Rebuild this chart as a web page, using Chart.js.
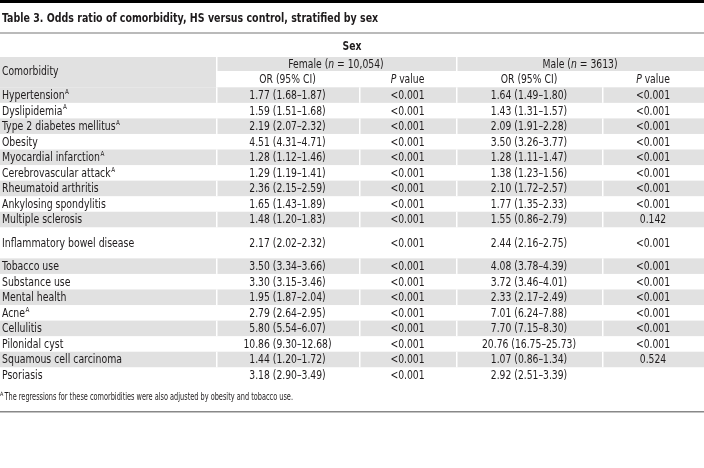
<!DOCTYPE html>
<html>
<head>
<meta charset="utf-8">
<script src="https://cdn.jsdelivr.net/npm/chart.js@4.4.1/dist/chart.umd.min.js"></script>
<style>
html, body { margin: 0; padding: 0; background: #fff; }
canvas { display: block; }
</style>
</head>
<body>
<canvas id="tbl" width="704" height="468"></canvas>
<script>
// table values
var comorbidities = ["Hypertension", "Dyslipidemia", "Type 2 diabetes mellitus", "Obesity",
    "Myocardial infarction", "Cerebrovascular attack", "Rheumatoid arthritis",
    "Ankylosing spondylitis", "Multiple sclerosis", "Inflammatory bowel disease",
    "Tobacco use", "Substance use", "Mental health", "Acne", "Cellulitis",
    "Pilonidal cyst", "Squamous cell carcinoma", "Psoriasis"];
var adjusted = [1, 1, 1, 0, 1, 1, 0, 0, 0, 0, 0, 0, 0, 1, 0, 0, 0, 0];
var femaleOR = ["1.77 (1.68–1.87)", "1.59 (1.51–1.68)", "2.19 (2.07–2.32)", "4.51 (4.31–4.71)",
    "1.28 (1.12–1.46)", "1.29 (1.19–1.41)", "2.36 (2.15–2.59)", "1.65 (1.43–1.89)",
    "1.48 (1.20–1.83)", "2.17 (2.02–2.32)", "3.50 (3.34–3.66)", "3.30 (3.15–3.46)",
    "1.95 (1.87–2.04)", "2.79 (2.64–2.95)", "5.80 (5.54–6.07)", "10.86 (9.30–12.68)",
    "1.44 (1.20–1.72)", "3.18 (2.90–3.49)"];
var femaleP = ["<0.001", "<0.001", "<0.001", "<0.001", "<0.001", "<0.001", "<0.001", "<0.001",
    "<0.001", "<0.001", "<0.001", "<0.001", "<0.001", "<0.001", "<0.001", "<0.001",
    "<0.001", "<0.001"];
var maleOR = ["1.64 (1.49–1.80)", "1.43 (1.31–1.57)", "2.09 (1.91–2.28)", "3.50 (3.26–3.77)",
    "1.28 (1.11–1.47)", "1.38 (1.23–1.56)", "2.10 (1.72–2.57)", "1.77 (1.35–2.33)",
    "1.55 (0.86–2.79)", "2.44 (2.16–2.75)", "4.08 (3.78–4.39)", "3.72 (3.46–4.01)",
    "2.33 (2.17–2.49)", "7.01 (6.24–7.88)", "7.70 (7.15–8.30)", "20.76 (16.75–25.73)",
    "1.07 (0.86–1.34)", "2.92 (2.51–3.39)"];
var maleP = ["<0.001", "<0.001", "<0.001", "<0.001", "<0.001", "<0.001", "<0.001", "<0.001",
    "0.142", "<0.001", "<0.001", "<0.001", "<0.001", "<0.001", "<0.001", "<0.001",
    "0.524", ""];
// row slot of each comorbidity (IBD takes two slots)
var rowSlot = [0, 1, 2, 3, 4, 5, 6, 7, 8, 9.5, 11, 12, 13, 14, 15, 16, 17, 18];

var title = "Table 3. Odds ratio of comorbidity, HS versus control, stratified by sex";
var footnote = "The regressions for these comorbidities were also adjusted by obesity and tobacco use.";

var FONT = '"Liberation Sans Narrow", "DejaVu Sans Condensed", sans-serif';
var INK = "#1e1b1c";
var SHADE = "#e1e1e1";
var SQ = 0.79;   // the journal face is narrower than Liberation Narrow
var F13 = "13px " + FONT;
// column edges in px
var cols = [0, 216, 359, 456, 602, 704];

// draw text squeezed horizontally by sx, anchored at x with given align
function txt(ctx, s, x, y, font, sx, align) {
    ctx.save();
    ctx.font = font;
    ctx.textAlign = align || "left";
    ctx.translate(x, y);
    ctx.scale(sx, 1);
    ctx.fillText(s, 0, 0);
    ctx.restore();
    ctx.font = font;
    return ctx.measureText(s).width * sx;
}

function runs(ctx, parts, x, y, align) {
    // parts: [text, italic]
    var w = 0;
    parts.forEach(function (p) {
        ctx.font = (p[1] ? "italic " : "") + F13;
        w += ctx.measureText(p[0]).width * SQ;
    });
    var cx = align == "center" ? x - w / 2 : x;
    parts.forEach(function (p) {
        cx += txt(ctx, p[0], cx, y, (p[1] ? "italic " : "") + F13, SQ, "left");
    });
}

var tablePlugin = {
    id: "tablePlugin",
    beforeDatasetsDraw: function (chart) {
        var ctx = chart.ctx;
        var xs = chart.scales.x, ys = chart.scales.y;
        var W = chart.width;
        var half = (ys.getPixelForValue(1) - ys.getPixelForValue(0)) / 2;
        ctx.save();

        // rules
        ctx.fillStyle = "#000";
        ctx.fillRect(0, 0, W, 3);
        ctx.fillStyle = "#777";
        ctx.fillRect(0, 32.5, W, 1);
        ctx.fillStyle = "#888";
        ctx.fillRect(0, 411, W, 1.5);

        ctx.textBaseline = "middle";
        ctx.fillStyle = INK;
        txt(ctx, title, 2, 19, "bold 13px " + FONT, 0.81, "left");
        txt(ctx, "Sex", 352, 47, "bold 13px " + FONT, SQ, "center");

        // header bands
        ctx.fillStyle = SHADE;
        ctx.fillRect(0, 57, W, 14);
        ctx.fillRect(0, 71, cols[1], 16.3);
        ctx.fillStyle = "#fff";
        ctx.fillRect(cols[1], 57, 1.5, 30.3);
        ctx.fillRect(cols[3], 57, 1.5, 14);

        ctx.fillStyle = INK;
        runs(ctx, [["Comorbidity", false]], 2, 72, "left");
        runs(ctx, [["Female (", false], ["n", true], [" = 10,054)", false]], (cols[1] + cols[3]) / 2, 64.5, "center");
        runs(ctx, [["Male (", false], ["n", true], [" = 3613)", false]], (cols[3] + cols[5]) / 2, 64.5, "center");
        runs(ctx, [["OR (95% CI)", false]], (cols[1] + cols[2]) / 2, 80, "center");
        runs(ctx, [["P", true], [" value", false]], (cols[2] + cols[3]) / 2, 80, "center");
        runs(ctx, [["OR (95% CI)", false]], (cols[3] + cols[4]) / 2, 80, "center");
        runs(ctx, [["P", true], [" value", false]], (cols[4] + cols[5]) / 2, 80, "center");

        // body rows
        comorbidities.forEach(function (name, i) {
            var yc = ys.getPixelForValue(rowSlot[i]);
            if (i % 2 == 0) {
                ctx.fillStyle = SHADE;
                ctx.fillRect(xs.getPixelForValue(cols[0]), yc - half, W, half * 2);
                ctx.fillStyle = "#fff";
                for (var c = 1; c < 5; c++) {
                    ctx.fillRect(xs.getPixelForValue(cols[c]), yc - half, 1.5, half * 2);
                }
            }
            ctx.fillStyle = INK;
            var w = txt(ctx, name, 2, yc + 0.5, F13, 0.80, "left");
            if (adjusted[i]) {
                txt(ctx, "A", 2 + w + 0.5, yc - 3, "7px " + FONT, 0.9, "left");
            }
            txt(ctx, femaleOR[i], xs.getPixelForValue((cols[1] + cols[2]) / 2), yc + 0.5, F13, 0.79, "center");
            txt(ctx, femaleP[i], xs.getPixelForValue((cols[2] + cols[3]) / 2), yc + 0.5, F13, SQ, "center");
            txt(ctx, maleOR[i], xs.getPixelForValue((cols[3] + cols[4]) / 2), yc + 0.5, F13, 0.79, "center");
            txt(ctx, maleP[i], xs.getPixelForValue((cols[4] + cols[5]) / 2), yc + 0.5, F13, SQ, "center");
        });

        // footnote
        txt(ctx, "A", 0, 394, "6px " + FONT, 0.9, "left");
        txt(ctx, footnote, 4.5, 397, "10px " + FONT, 0.73, "left");
        ctx.restore();
    }
};

new Chart(document.getElementById("tbl"), {
    type: "scatter",
    data: {
        datasets: [{
            data: rowSlot.map(function (s) { return { x: 0, y: s }; }),
            pointRadius: 0
        }]
    },
    options: {
        responsive: false,
        animation: false,
        events: [],
        layout: { padding: { top: 87.3, bottom: 468 - 382.8, left: 0, right: 0 } },
        plugins: { legend: { display: false }, tooltip: { enabled: false } },
        scales: {
            x: { type: "linear", min: 0, max: 704, display: false },
            y: { type: "linear", min: -0.5, max: 18.5, reverse: true, display: false }
        }
    },
    plugins: [tablePlugin]
});
</script>
</body>
</html>
